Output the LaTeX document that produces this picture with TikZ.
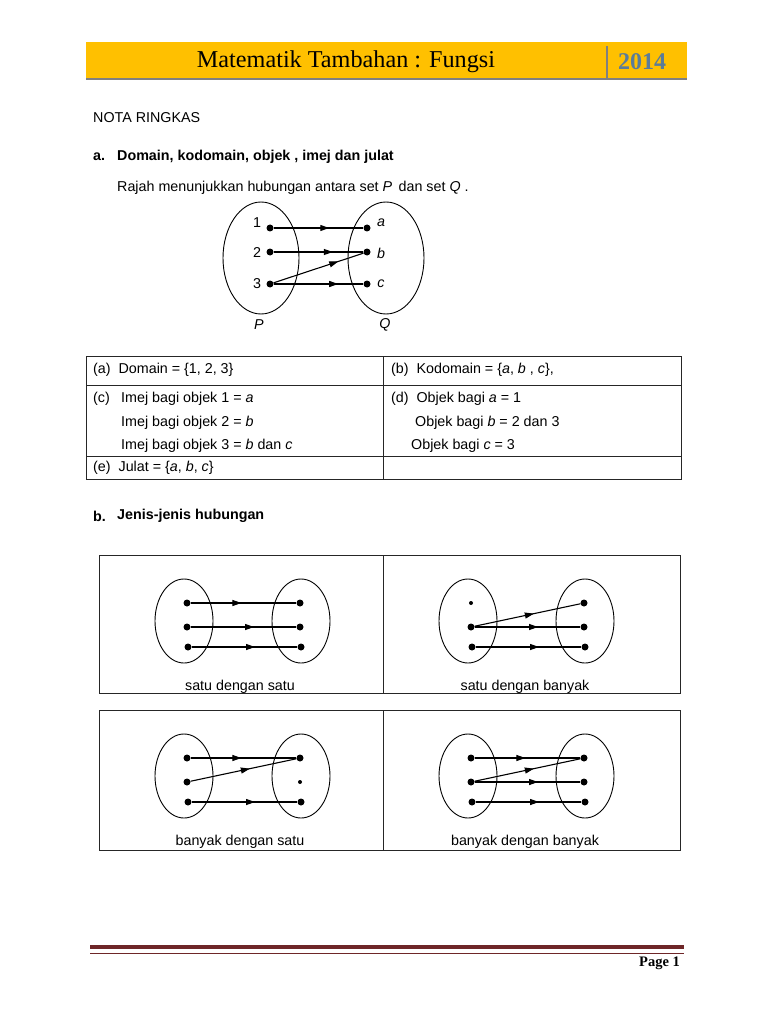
\documentclass[tikz,border=0pt]{standalone}
\usepackage{fontspec}
\setmainfont{Liberation Sans}
\newfontfamily\judulfont{Liberation Serif}
\usetikzlibrary{arrows.meta, decorations.markings}

\definecolor{kuning}{HTML}{FFC000}
\definecolor{kelabu}{HTML}{808080}
\definecolor{biru}{HTML}{5B7C99}
\definecolor{merah}{HTML}{6E2628}

\begin{document}
\begin{tikzpicture}[
      x=1pt, y=-1pt,
      teks/.style={anchor=west, inner sep=0pt, font=\fontsize{14.3}{17}\selectfont},
      kapsyen/.style={inner sep=0pt, font=\fontsize{14.3}{17}\selectfont},
      titik/.style={circle, fill=black, inner sep=0pt, minimum size=7pt},
      titikkecil/.style={circle, fill=black, inner sep=0pt, minimum size=4pt},
      himpunan/.style={draw, line width=0.9pt},
      garis/.style={line width=1pt, draw=black!85},
      panah/.style={line width=1.1pt, postaction={decorate, decoration={markings,
          mark=at position #1 with {\arrow{Triangle[length=9pt, width=6pt]}}}}},
      panah/.default=0.6
    ]
    \useasboundingbox[fill=white] (0,0) rectangle (768,1024);

    % kepala halaman
    \fill[kuning] (86,42) rectangle (687,78);
    \draw[kelabu, line width=2.2pt] (86,79) -- (687,79);
    \draw[kelabu, line width=2pt] (607,46) -- (607,79);
    \node[inner sep=0pt, font=\judulfont\fontsize{24.2}{27}\selectfont] (judul) at (346,62)
      {Matematik Tambahan : Fungsi};
    \node[inner sep=0pt, text=biru, font=\judulfont\bfseries\fontsize{24}{27}\selectfont]
      (tahun) at (642,62) {2014};

    \node[teks] (nota) at (93,118) {NOTA RINGKAS};
    \node[teks, font=\bfseries\fontsize{14.3}{17}\selectfont] (suba) at (93,157) {a.};
    \node[teks, font=\bfseries\fontsize{14.3}{17}\selectfont] (subajudul) at (117,157)
      {Domain, kodomain, objek , imej dan julat};
    \node[teks] (rajah) at (117,188)
      {Rajah menunjukkan hubungan antara set \textit{P}\, dan set \textit{Q} .};

    % gambar rajah P dan Q
    \draw[himpunan] (261,258) ellipse [x radius=38pt, y radius=56pt];
    \draw[himpunan] (386,258) ellipse [x radius=38pt, y radius=56pt];
    \node[titik] (p1) at (270,228) {};
    \node[titik] (p2) at (270,252) {};
    \node[titik] (p3) at (270,284) {};
    \node[titik] (qa) at (367,228) {};
    \node[titik] (qb) at (367,252) {};
    \node[titik] (qc) at (367,284) {};
    \node[kapsyen] (n1) at (257,223) {1};
    \node[kapsyen] (n2) at (257,253) {2};
    \node[kapsyen] (n3) at (257,284) {3};
    \node[kapsyen] (na) at (381,223) {\textit{a}};
    \node[kapsyen] (nb) at (381,253) {\textit{b}};
    \node[kapsyen] (nc) at (381,284) {\textit{c}};
    \node[kapsyen] (setp) at (259,325) {\textit{P}};
    \node[kapsyen] (setq) at (385,325) {\textit{Q}};
    \draw[panah=0.62] (p1) -- (qa);
    \draw[panah=0.66] (p2) -- (qb);
    \draw[panah=0.72] (p3) -- (qc);
    \draw[panah=0.72] (p3) -- (qb);

    % jadual
    \draw[garis] (86,356) rectangle (681,479);
    \draw[garis] (86,385) -- (681,385);
    \draw[garis] (86,456) -- (681,456);
    \draw[garis] (383,356) -- (383,479);
    \node[teks] (ja) at (93,370) {(a)\; Domain = \{1, 2, 3\}};
    \node[teks] (jb) at (391,370) {(b)\; Kodomain = \{\textit{a}, \textit{b} , \textit{c}\},};
    \node[teks] (jc) at (93,399) {(c)};
    \node[teks] (jc1) at (121,399) {Imej bagi objek 1 = \textit{a}};
    \node[teks] (jc2) at (121,423) {Imej bagi objek 2 = \textit{b}};
    \node[teks] (jc3) at (121,446) {Imej bagi objek 3 = \textit{b} dan \textit{c}};
    \node[teks] (jd1) at (391,399) {(d)\; Objek bagi \textit{a} = 1};
    \node[teks] (jd2) at (415,423) {Objek bagi \textit{b} = 2 dan 3};
    \node[teks] (jd3) at (411,446) {Objek bagi \textit{c} = 3};
    \node[teks] (je) at (93,468) {(e)\; Julat = \{\textit{a}, \textit{b}, \textit{c}\}};

    \node[teks, font=\bfseries\fontsize{14.3}{17}\selectfont] (subb) at (93,516) {b.};
    \node[teks, font=\bfseries\fontsize{14.3}{17}\selectfont] (subbjudul) at (117,516)
      {Jenis-jenis hubungan};

    % jenis-jenis hubungan
    \draw[garis] (99,555) rectangle (680,693);
    \draw[garis] (383,555) -- (383,693);
    \draw[garis] (99,710) rectangle (680,850);
    \draw[garis] (383,710) -- (383,850);
    \foreach \pn/\px/\py/\ka/\kb in {A/184/621/titik/titik, B/468/621/titikkecil/titik,
                                     C/184/776/titik/titikkecil, D/468/776/titik/titik} {
      \draw[himpunan] (\px,\py) ellipse [x radius=29pt, y radius=42pt];
      \draw[himpunan] (\px+117,\py) ellipse [x radius=29pt, y radius=42pt];
      \node[\ka] (\pn1) at (\px+3,\py-18) {};
      \node[titik] (\pn2) at (\px+3,\py+6) {};
      \node[titik] (\pn3) at (\px+4,\py+26) {};
      \node[titik] (\pn4) at (\px+116,\py-18) {};
      \node[\kb] (\pn5) at (\px+116,\py+6) {};
      \node[titik] (\pn6) at (\px+117,\py+26) {};
    }
    \draw[panah=0.48] (A1) -- (A4);
    \draw[panah] (A2) -- (A5);
    \draw[panah] (A3) -- (A6);
    \draw[panah=0.56] (B2) -- (B4);
    \draw[panah] (B2) -- (B5);
    \draw[panah] (B3) -- (B6);
    \draw[panah=0.48] (C1) -- (C4);
    \draw[panah=0.56] (C2) -- (C4);
    \draw[panah] (C3) -- (C6);
    \draw[panah=0.48] (D1) -- (D4);
    \draw[panah=0.56] (D2) -- (D4);
    \draw[panah] (D2) -- (D5);
    \draw[panah] (D3) -- (D6);
    \node[kapsyen] (ka) at (240,687) {satu dengan satu};
    \node[kapsyen] (kb) at (525,687) {satu dengan banyak};
    \node[kapsyen] (kc) at (240,842) {banyak dengan satu};
    \node[kapsyen] (kd) at (525,842) {banyak dengan banyak};

    % kaki halaman
    \draw[merah, line width=4pt] (90,947) -- (684,947);
    \draw[merah, line width=1.5pt] (90,953.5) -- (684,953.5);
    \node[anchor=east, inner sep=0pt, font=\judulfont\bfseries\fontsize{14.5}{17}\selectfont]
      (muka) at (680,963) {Page 1};
  \end{tikzpicture}
\end{document}
